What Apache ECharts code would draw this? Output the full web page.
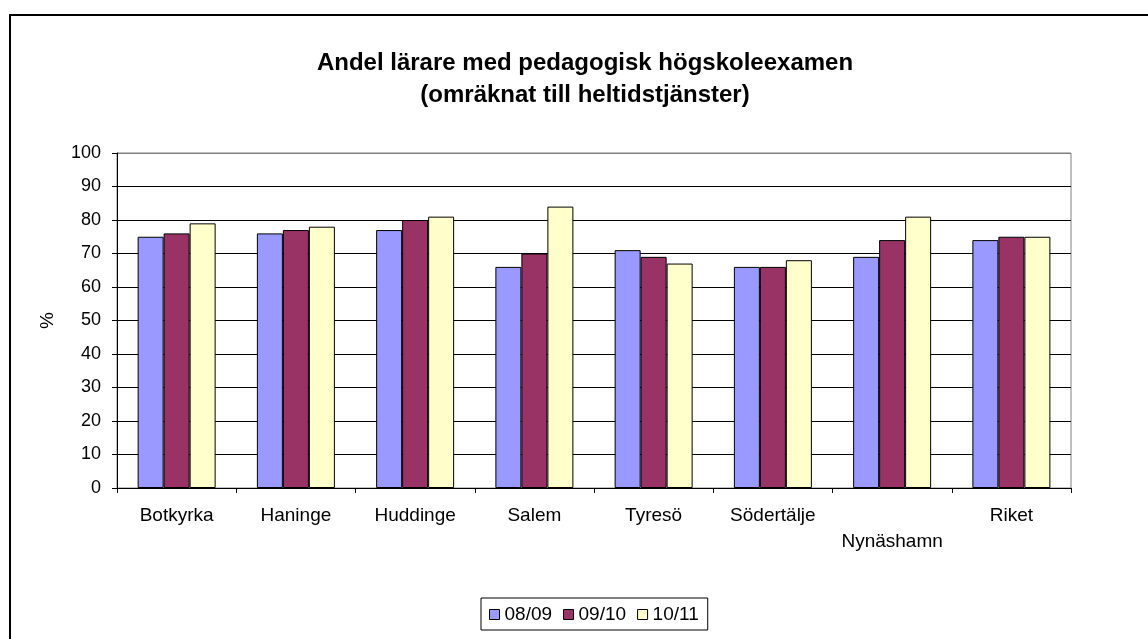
<!DOCTYPE html>
<html>
<head>
<meta charset="utf-8">
<script src="https://cdn.jsdelivr.net/npm/echarts@6/dist/echarts.min.js"></script>
<style>
    html, body { margin: 0; padding: 0; background: #fff; }
    #chart { width: 1148px; height: 639px; }
</style>
</head>
<body>
<div id="chart"></div>
<script>
const categories = ["Botkyrka", "Haninge", "Huddinge", "Salem", "Tyresö", "Södertälje", "Nynäshamn", "Riket"];
const seriesNames = ["08/09", "09/10", "10/11"];
const values0809 = [75, 76, 77, 66, 71, 66, 69, 74];
const values0910 = [76, 77, 80, 70, 69, 66, 74, 75];
const values1011 = [79, 78, 81, 84, 67, 68, 81, 75];
const barColors = ["#9999FF", "#993366", "#FFFFCC"];

const FONT = '"Liberation Sans", Arial, sans-serif';

const chart = echarts.init(document.getElementById("chart"));

const seriesData = [values0809, values0910, values1011];

// 0..90 black, the 100 line sits on the grey plot border
const splitColors = [];
for (let i = 0; i <= 10; i++) splitColors.push(i === 10 ? "#808080" : "#000");

chart.setOption({
    animation: false,
    backgroundColor: "#fff",
    title: {
        text: "Andel lärare med pedagogisk högskoleexamen\n(omräknat till heltidstjänster)",
        left: 580,
        top: 42,
        textAlign: "center",
        textStyle: {
            fontFamily: FONT,
            fontSize: 24,
            fontWeight: "bold",
            color: "#000",
            lineHeight: 32
        }
    },
    legend: {
        left: 481,
        top: 598,
        data: seriesNames,
        icon: "rect",
        itemWidth: 10,
        itemHeight: 10,
        itemGap: 11,
        padding: [7, 9, 6, 8],
        borderColor: "#000",
        borderWidth: 1,
        textStyle: {
            fontFamily: FONT,
            fontSize: 19,
            color: "#000"
        },
        itemStyle: { borderColor: "#000", borderWidth: 1 }
    },
    grid: {
        left: 117,
        right: 77,
        top: 153,
        bottom: 151,
        containLabel: false,
        show: true,
        borderColor: "#808080",
        borderWidth: 1
    },
    xAxis: {
        type: "category",
        data: categories,
        boundaryGap: true,
        axisLine: { lineStyle: { color: "#000", width: 1 } },
        axisTick: { show: true, length: 5, alignWithLabel: false, lineStyle: { color: "#000" } },
        axisLabel: {
            interval: 0,
            margin: 15,
            fontFamily: FONT,
            fontSize: 19,
            color: "#000",
            lineHeight: 26,
            formatter: function (v, idx) {
                return idx === 6 ? "\n" + v : v;
            }
        }
    },
    yAxis: {
        type: "value",
        min: 0,
        max: 100,
        interval: 10,
        name: "%",
        nameLocation: "middle",
        nameGap: 60,
        nameRotate: 90,
        nameTextStyle: { fontFamily: FONT, fontSize: 19, color: "#000" },
        axisLine: { show: true, lineStyle: { color: "#000", width: 1 } },
        axisTick: { show: true, length: 5, inside: false, lineStyle: { color: "#000" } },
        axisLabel: {
            margin: 16,
            fontFamily: FONT,
            fontSize: 18,
            color: "#000"
        },
        splitLine: { show: true, lineStyle: { color: splitColors, width: 1 } }
    },
    graphic: [{
        type: "rect",
        shape: { x: 10, y: 15, width: 1200, height: 700 },
        style: { fill: "none", stroke: "#000", lineWidth: 2 },
        silent: true,
        z: -10
    }],
    series: seriesNames.map((name, i) => ({
        name: name,
        type: "bar",
        data: seriesData[i],
        barWidth: 26,
        barGap: "0%",
        itemStyle: {
            color: barColors[i],
            borderColor: "#000",
            borderWidth: 1
        }
    }))
});
</script>
</body>
</html>
